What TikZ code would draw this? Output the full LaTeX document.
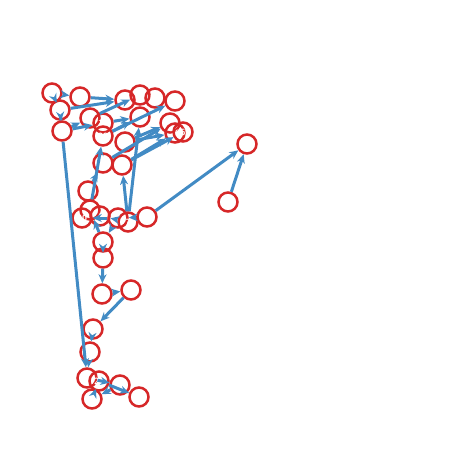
\documentclass[tikz,border=0pt]{standalone}
\usetikzlibrary{arrows.meta}
\definecolor{vred}{RGB}{214,39,40}
\definecolor{eblue}{RGB}{66,139,196}
\begin{document}
\begin{tikzpicture}[
			x=1pt, y=-1pt,
			vtx/.style={circle,draw=vred,line width=2.5pt,minimum size=19pt,inner sep=0pt,text=white,font=\sffamily\bfseries\small},
			edge/.style={draw=eblue,line width=3pt,-{Stealth[length=9pt,width=8pt]}}
		]
		\useasboundingbox (0,0) rectangle (462,462);
		% top rows
		\node[vtx] (v0) at (52,93) {0};
		\node[vtx] (v1) at (80,97) {1};
		\node[vtx] (v10) at (125,100) {10};
		\node[vtx] (v9) at (140,95) {9};
		\node[vtx] (v31) at (155,98) {31};
		\node[vtx] (v12) at (175,101) {12};
		\node[vtx] (v26) at (60,110) {26};
		\node[vtx] (v8) at (140,117) {8};
		\node[vtx] (v19) at (90,118) {19};
		\node[vtx] (v13) at (103,123) {13};
		\node[vtx] (v25) at (62,131) {25};
		\node[vtx] (v28) at (103,136) {28};
		\node[vtx] (v2) at (170,123) {2};
		\node[vtx] (v20) at (175,133) {20};
		\node[vtx] (v5) at (183,132) {5};
		\node[vtx] (v14) at (125,142) {14};
		\node[vtx] (v3) at (247,144) {3};
		\node[vtx] (v11) at (228,202) {11};
		% middle
		\node[vtx] (v23) at (103,163) {23};
		\node[vtx] (v15) at (122,165) {15};
		\node[vtx] (v29) at (88,191) {29};
		\node[vtx] (v6) at (90,210) {6};
		\node[vtx] (v30) at (82,218) {30};
		\node[vtx] (v4) at (100,216) {4};
		\node[vtx] (v33) at (118,218) {33};
		\node[vtx] (v7) at (128,222) {7};
		\node[vtx] (v36) at (147,217) {36};
		\node[vtx] (v35) at (103,242) {35};
		\node[vtx] (v17) at (103,258) {17};
		% bottom
		\node[vtx] (v16) at (102,294) {16};
		\node[vtx] (v18) at (131,290) {18};
		\node[vtx] (v21) at (93,329) {21};
		\node[vtx] (v22) at (90,352) {22};
		\node[vtx] (v41) at (87,378) {41};
		\node[vtx] (v24) at (99,381) {24};
		\node[vtx] (v27) at (120,385) {27};
		\node[vtx] (v32) at (139,397) {32};
		\node[vtx] (v34) at (92,399) {34};
		% edges
		\draw[edge] (v0) -- (v1);
		\draw[edge] (v1) -- (v10);
		\draw[edge] (v26) -- (v0);
		\draw[edge] (v25) -- (v26);
		\draw[edge] (v25) -- (v19);
		\draw[edge] (v25) -- (v13);
		\draw[edge] (v26) -- (v10);
		\draw[edge] (v19) -- (v9);
		\draw[edge] (v13) -- (v8);
		\draw[edge] (v28) -- (v8);
		\draw[edge] (v28) -- (v12);
		\draw[edge] (v14) -- (v2);
		\draw[edge] (v14) -- (v20);
		\draw[edge] (v23) -- (v2);
		\draw[edge] (v15) -- (v20);
		\draw[edge] (v15) -- (v5);
		\draw[edge] (v29) -- (v23);
		\draw[edge] (v6) -- (v28);
		\draw[edge] (v7) -- (v8);
		\draw[edge] (v7) -- (v15);
		\draw[edge] (v36) -- (v3);
		\draw[edge] (v11) -- (v3);
		\draw[edge] (v36) -- (v33);
		\draw[edge] (v33) -- (v30);
		\draw[edge] (v7) -- (v4);
		\draw[edge] (v35) -- (v6);
		\draw[edge] (v33) -- (v35);
		\draw[edge] (v17) -- (v35);
		\draw[edge] (v17) -- (v16);
		\draw[edge] (v16) -- (v18);
		\draw[edge] (v18) -- (v21);
		\draw[edge] (v21) -- (v22);
		\draw[edge] (v22) -- (v41);
		\draw[edge] (v25) -- (v41);
		\draw[edge] (v41) -- (v27);
		\draw[edge] (v24) -- (v32);
		\draw[edge] (v27) -- (v34);
		\draw[edge] (v24) -- (v34);
	\end{tikzpicture}
\end{document}
